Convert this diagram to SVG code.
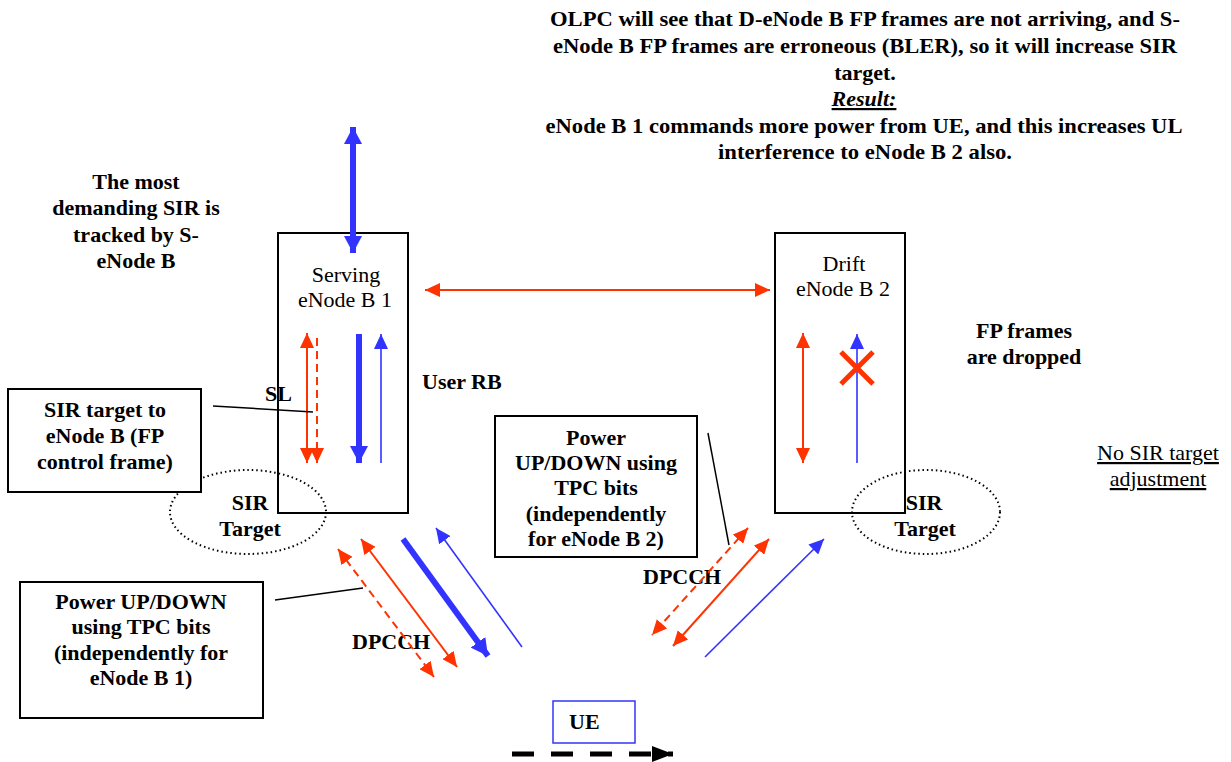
<svg xmlns="http://www.w3.org/2000/svg" width="1231" height="762" viewBox="0 0 1231 762">
<style>
text{font-family:'Liberation Serif',serif;fill:#000}
.b{font-weight:bold;font-size:22px}
.r{font-size:22px}
.box{fill:#fff;stroke:#000;stroke-width:2}
.bs{fill:none;stroke:#000;stroke-width:2}
.ell{fill:none;stroke:#000;stroke-width:2;stroke-dasharray:1.5 3}
.red{stroke:#FF3300;stroke-width:2;fill:none}
.redd{stroke:#FF3300;stroke-width:2;fill:none;stroke-dasharray:8 5}
.blue{stroke:#3333FF;stroke-width:1.6;fill:none}
.bluet{stroke:#3333FF;stroke-width:6;fill:none}
.lead{stroke:#000;stroke-width:1.5;fill:none}
</style>
<defs>
<marker id="ra" markerUnits="userSpaceOnUse" markerWidth="16" markerHeight="14" refX="15" refY="7" orient="auto-start-reverse"><path d="M0,0 L15,7 L0,14 z" fill="#FF3300"/></marker>
<marker id="ba" markerUnits="userSpaceOnUse" markerWidth="16" markerHeight="14" refX="15" refY="7" orient="auto-start-reverse"><path d="M0,0 L15,7 L0,14 z" fill="#3333FF"/></marker>
<marker id="bta" markerUnits="userSpaceOnUse" markerWidth="18" markerHeight="18" refX="17" refY="9" orient="auto-start-reverse"><path d="M0,0 L17,9 L0,18 z" fill="#3333FF"/></marker>
<marker id="ka" markerUnits="userSpaceOnUse" markerWidth="22" markerHeight="18" refX="21" refY="9" orient="auto"><path d="M0,1 L21,9 L0,17 z" fill="#000"/></marker>
</defs>
<rect width="1231" height="762" fill="#fff"/>

<g id="top-note">
<text class="b" x="865" y="26" text-anchor="middle" textLength="630" lengthAdjust="spacingAndGlyphs">OLPC will see that D-eNode B FP frames are not arriving, and S-</text>
<text class="b" x="865" y="53" text-anchor="middle" textLength="624" lengthAdjust="spacingAndGlyphs">eNode B FP frames are erroneous (BLER), so it will increase SIR</text>
<text class="b" x="865" y="80" text-anchor="middle">target.</text>
<text class="b" x="864" y="106" text-anchor="middle" font-style="italic" text-decoration="underline">Result:</text>
<text class="b" x="864" y="133" text-anchor="middle" textLength="637" lengthAdjust="spacingAndGlyphs">eNode B 1 commands more power from UE, and this increases UL</text>
<text class="b" x="865" y="159" text-anchor="middle" textLength="294" lengthAdjust="spacingAndGlyphs">interference to eNode B 2 also.</text>
</g>

<g id="left-note">
<text class="b" x="136" y="189" text-anchor="middle">The most</text>
<text class="b" x="136" y="215" text-anchor="middle">demanding SIR is</text>
<text class="b" x="136" y="242" text-anchor="middle">tracked by S-</text>
<text class="b" x="136" y="268" text-anchor="middle">eNode B</text>
</g>

<g id="dropped-note">
<text class="b" x="1024" y="338" text-anchor="middle">FP frames</text>
<text class="b" x="1024" y="364" text-anchor="middle">are dropped</text>
</g>

<g id="no-sir-note">
<text class="r" x="1158" y="460" text-anchor="middle" text-decoration="underline">No SIR target</text>
<text class="r" x="1158" y="486" text-anchor="middle" text-decoration="underline">adjustment</text>
</g>

<g id="sir-target-1">
<ellipse class="ell" cx="248" cy="512" rx="78" ry="42"/>
<text class="b" x="250" y="510" text-anchor="middle">SIR</text>
<text class="b" x="250" y="536" text-anchor="middle">Target</text>
</g>

<g id="sir-target-2">
<ellipse class="ell" cx="926" cy="512" rx="74" ry="42"/>
<text class="b" x="924" y="510" text-anchor="middle">SIR</text>
<text class="b" x="925" y="536" text-anchor="middle">Target</text>
</g>

<g id="serving-enodeb">
<rect class="bs" x="278" y="233" width="130" height="280"/>
<text class="r" x="346" y="282" text-anchor="middle">Serving</text>
<text class="r" x="345" y="307" text-anchor="middle">eNode B 1</text>
</g>

<g id="drift-enodeb">
<rect class="bs" x="775" y="233" width="130" height="280"/>
<text class="r" x="844" y="271" text-anchor="middle">Drift</text>
<text class="r" x="843" y="296" text-anchor="middle">eNode B 2</text>
</g>

<g id="sir-fp-box">
<rect class="box" x="8" y="389" width="193" height="103"/>
<text class="b" x="105" y="417" text-anchor="middle">SIR target to</text>
<text class="b" x="105" y="443" text-anchor="middle">eNode B (FP</text>
<text class="b" x="105" y="469" text-anchor="middle">control frame)</text>
</g>

<g id="power-box-1">
<rect class="box" x="20" y="582" width="243" height="136"/>
<text class="b" x="141" y="609" text-anchor="middle">Power UP/DOWN</text>
<text class="b" x="141" y="634" text-anchor="middle">using TPC bits</text>
<text class="b" x="141" y="660" text-anchor="middle">(independently for</text>
<text class="b" x="141" y="685" text-anchor="middle">eNode B 1)</text>
</g>

<g id="power-box-2">
<rect class="box" x="495" y="416" width="202" height="141"/>
<text class="b" x="596" y="445" text-anchor="middle">Power</text>
<text class="b" x="596" y="470" text-anchor="middle">UP/DOWN using</text>
<text class="b" x="596" y="495" text-anchor="middle">TPC bits</text>
<text class="b" x="596" y="521" text-anchor="middle">(independently</text>
<text class="b" x="596" y="546" text-anchor="middle">for eNode B 2)</text>
</g>

<g id="ue">
<rect x="553" y="701" width="82" height="42" fill="none" stroke="#3333FF" stroke-width="1.5"/>
<text class="b" x="569" y="729">UE</text>
</g>

<g id="labels">
<text class="b" x="265" y="401">SL</text>
<text class="b" x="422" y="389">User RB</text>
<text class="b" x="352" y="649">DPCCH</text>
<text class="b" x="643" y="584">DPCCH</text>
</g>

<g id="connectors">
<line class="bluet" x1="353" y1="127" x2="353" y2="253" marker-start="url(#bta)" marker-end="url(#bta)"/>
<line class="red" x1="425" y1="290" x2="770" y2="290" marker-start="url(#ra)" marker-end="url(#ra)"/>
<line class="red" x1="307" y1="333" x2="307" y2="463" marker-start="url(#ra)" marker-end="url(#ra)"/>
<line class="redd" x1="317" y1="338" x2="317" y2="463" marker-end="url(#ra)"/>
<line class="bluet" x1="359" y1="334" x2="359" y2="463" marker-end="url(#bta)"/>
<line class="blue" x1="381" y1="463" x2="381" y2="334" marker-end="url(#ba)"/>
<line class="red" x1="803" y1="333" x2="803" y2="463" marker-start="url(#ra)" marker-end="url(#ra)"/>
<line class="blue" x1="857" y1="463" x2="857" y2="334" marker-end="url(#ba)"/>
<path d="M841,352 L873,384 M873,352 L841,384" stroke="#FF3300" stroke-width="5" fill="none"/>
<line class="lead" x1="213" y1="406" x2="313" y2="412"/>
<line class="lead" x1="275" y1="600" x2="363" y2="588"/>
<line class="lead" x1="708" y1="433" x2="729" y2="545"/>
<line class="redd" x1="338" y1="549" x2="434" y2="677" marker-start="url(#ra)" marker-end="url(#ra)"/>
<line class="red" x1="361" y1="539" x2="457" y2="667" marker-start="url(#ra)" marker-end="url(#ra)"/>
<line class="bluet" x1="403" y1="539" x2="488" y2="656" marker-end="url(#bta)"/>
<line class="blue" x1="522" y1="647" x2="436" y2="528" marker-end="url(#ba)"/>
<line class="redd" x1="748" y1="528" x2="652" y2="635" marker-start="url(#ra)" marker-end="url(#ra)"/>
<line class="red" x1="769" y1="539" x2="673" y2="646" marker-start="url(#ra)" marker-end="url(#ra)"/>
<line class="blue" x1="705" y1="657" x2="824" y2="539" marker-end="url(#ba)"/>
<line x1="512" y1="754" x2="673" y2="754" stroke="#000" stroke-width="5" stroke-dasharray="22 17" marker-end="url(#ka)"/>
</g>
</svg>
